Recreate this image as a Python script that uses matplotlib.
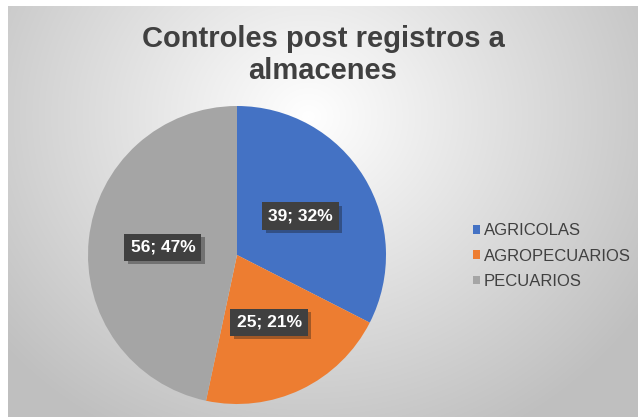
import numpy as np
import matplotlib
matplotlib.use("Agg")
import matplotlib.pyplot as plt
import matplotlib.patheffects as pe

plt.rcParams["font.family"] = ["Liberation Sans", "DejaVu Sans"]

categories = ["AGRICOLAS", "AGROPECUARIOS", "PECUARIOS"]
values = [39, 25, 56]
colors = ["#4472C4", "#ED7D31", "#A5A5A5"]
title = "Controles post registros a\nalmacenes"

W, H = 638, 417
fig = plt.figure(figsize=(W / 100, H / 100), dpi=100, facecolor="white")

# radial gradient background of the chart area (x 8..638, y 6..417 px)
bg = fig.add_axes([8 / W, 0, 630 / W, 411 / H])
bg.set_axis_off()
yy, xx = np.mgrid[0:411, 0:630]
d = np.hypot((xx - 300) / 400.0, (yy - 110) / 360.0)
d = np.clip(d, 0, 1)
shade = 1.0 - 0.25 * d ** 1.0
bg.imshow(np.dstack([shade] * 3), aspect="auto", extent=(0, 630, 411, 0))

# pie, center (237,255) px, radius 149 px
R = 149
ax = fig.add_axes([(237 - R) / W, (H - 255 - R) / H, 2 * R / W, 2 * R / H])
wedges, _ = ax.pie(values, colors=colors, startangle=90, counterclock=False,
                   radius=1.0)
ax.set_xlim(-1, 1)
ax.set_ylim(-1, 1)

total = sum(values)
for w, v in zip(wedges, values):
    ang = np.deg2rad((w.theta1 + w.theta2) / 2)
    x, y = 0.5 * np.cos(ang), 0.5 * np.sin(ang)
    txt = f"{v}; {v / total * 100:.0f}%"
    t = ax.text(x, y, txt, ha="center", va="center", fontsize=12.5,
                weight="bold", color="white",
                bbox=dict(boxstyle="square,pad=0.35", fc="#404040", ec="none"))
    t.get_bbox_patch().set_path_effects(
        [pe.SimplePatchShadow(offset=(2.5, -2.5), alpha=0.35), pe.Normal()])

fig.text(323 / W, 1 - 55 / H, title, ha="center", va="center", fontsize=21,
         weight="bold", color="#404040", linespacing=1.15)

fig.legend(wedges, categories, loc="upper left",
           bbox_to_anchor=(465 / W, 1 - 215 / H), frameon=False,
           fontsize=12, handlelength=0.42, handleheight=0.42,
           handletextpad=0.2, labelspacing=0.62, borderpad=0,
           labelcolor="#404040")

fig.savefig("out.png", dpi=100, facecolor="white")
